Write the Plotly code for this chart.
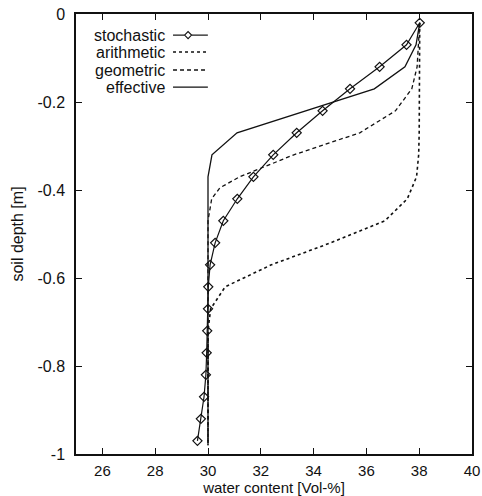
import plotly.graph_objects as go

# ---- data ----
depth_stoch = [-0.02, -0.07, -0.12, -0.17, -0.22, -0.27, -0.32, -0.37, -0.42, -0.47,
               -0.52, -0.57, -0.62, -0.67, -0.72, -0.77, -0.82, -0.87, -0.92, -0.97]
water_stoch = [38.02, 37.52, 36.5, 35.38, 34.34, 33.36, 32.47, 31.72, 31.11, 30.58,
               30.27, 30.08, 30.01, 30.0, 29.97, 29.95, 29.92, 29.85, 29.73, 29.6]

depth_arith = [-0.02, -0.07, -0.12, -0.17, -0.22, -0.27, -0.32, -0.37, -0.42, -0.47,
               -0.52, -0.57, -0.62, -0.67, -0.72, -0.77, -0.82, -0.87, -0.92, -0.98]
water_arith = [38.02, 38.02, 38.02, 38.01, 38.0, 38.0, 37.98, 37.9, 37.55, 36.7,
               34.65, 32.4, 30.65, 30.1, 30.0, 30.0, 30.0, 30.0, 30.0, 30.0]

depth_geom = [-0.02, -0.07, -0.12, -0.17, -0.22, -0.27, -0.32, -0.37, -0.395, -0.42,
              -0.47, -0.52, -0.62, -0.72, -0.82, -0.92, -0.98]
water_geom = [38.02, 37.98, 37.92, 37.72, 37.1, 35.75, 33.25, 31.2, 30.45, 30.14,
              30.0, 30.0, 30.0, 30.0, 30.0, 30.0, 30.0]

depth_eff = [-0.02, -0.07, -0.12, -0.17, -0.27, -0.32, -0.37, -0.47, -0.57, -0.67,
             -0.77, -0.87, -0.98]
water_eff = [38.02, 37.88, 37.46, 36.3, 31.1, 30.15, 30.0, 30.0, 30.0, 30.0,
             30.0, 30.0, 30.0]

x_ticks = [26, 28, 30, 32, 34, 36, 38, 40]
y_ticks = [0, -0.2, -0.4, -0.6, -0.8, -1]
y_tick_labels = ["0", "-0.2", "-0.4", "-0.6", "-0.8", "-1"]
series_names = ["stochastic", "arithmetic", "geometric", "effective"]

FONT = "Liberation Sans, Arial, Helvetica, sans-serif"
BLACK = "#111111"

fig = go.Figure()
fig.add_trace(go.Scatter(x=water_arith, y=depth_arith, mode="lines", name=series_names[1],
                         line=dict(color=BLACK, width=1.6, dash="dot")))
fig.add_trace(go.Scatter(x=water_geom, y=depth_geom, mode="lines", name=series_names[2],
                         line=dict(color=BLACK, width=1.3, dash="4px,3px")))
fig.add_trace(go.Scatter(x=water_eff, y=depth_eff, mode="lines", name=series_names[3],
                         line=dict(color=BLACK, width=1.3)))
fig.add_trace(go.Scatter(x=water_stoch, y=depth_stoch, mode="lines+markers", name=series_names[0],
                         line=dict(color=BLACK, width=1.2),
                         marker=dict(symbol="diamond-open", size=7, color=BLACK,
                                     line=dict(color=BLACK, width=1.2))))

# ---- custom legend (text right-aligned, sample to the right) ----
leg_y = [0.952, 0.9136, 0.8727, 0.834]
leg_dash = ["solid", "dot", "4px,3px", "solid"]
x_text = 0.2298
x0, x1 = 0.245, 0.333
shapes = []
annotations = []
for name, yy, dsh in zip(series_names, leg_y, leg_dash):
    annotations.append(dict(x=x_text, y=yy, xref="paper", yref="paper", text=name,
                            showarrow=False, xanchor="right", yanchor="middle",
                            font=dict(family=FONT, size=16, color=BLACK)))
    if name == "stochastic":
        xm = 0.283
        dx, dy = 3.5 / 396, 3.5 / 440
        shapes.append(dict(type="line", xref="paper", yref="paper", x0=x0, x1=xm - dx,
                           y0=yy, y1=yy, line=dict(color=BLACK, width=1.2)))
        shapes.append(dict(type="line", xref="paper", yref="paper", x0=xm + dx, x1=x1,
                           y0=yy, y1=yy, line=dict(color=BLACK, width=1.2)))
        shapes.append(dict(type="path", xref="paper", yref="paper",
                           path=f"M {xm-dx} {yy} L {xm} {yy+dy} L {xm+dx} {yy} L {xm} {yy-dy} Z",
                           line=dict(color=BLACK, width=1.1), fillcolor="white"))
    else:
        shapes.append(dict(type="line", xref="paper", yref="paper", x0=x0, x1=x1,
                           y0=yy, y1=yy,
                           line=dict(color=BLACK, width=1.6 if dsh == "dot" else 1.3, dash=dsh)))

fig.update_layout(
    width=482, height=496,
    margin=dict(l=76, r=10, t=14, b=42),
    paper_bgcolor="white", plot_bgcolor="white",
    showlegend=False,
    font=dict(family=FONT, size=16, color=BLACK),
    shapes=shapes, annotations=annotations,
)
fig.update_xaxes(range=[25, 40], tickvals=x_ticks, ticks="inside", ticklen=6,
                 tickcolor=BLACK, tickwidth=1.3, showline=True, linecolor=BLACK,
                 linewidth=1.5, mirror="ticks", showgrid=False, zeroline=False,
                 ticklabelstandoff=2, automargin=False,
                 tickfont=dict(family=FONT, size=15, color=BLACK),
                 title=dict(text="water content [Vol-%]", standoff=8,
                            font=dict(family=FONT, size=15, color=BLACK)))
fig.update_yaxes(range=[-1, 0], tickvals=y_ticks, ticktext=y_tick_labels, ticks="inside",
                 ticklen=6, tickcolor=BLACK, tickwidth=1.3, showline=True, linecolor=BLACK,
                 linewidth=1.5, mirror="ticks", showgrid=False, zeroline=False,
                 ticklabelstandoff=6, automargin=False,
                 tickfont=dict(family=FONT, size=16, color=BLACK),
                 title=dict(text="soil depth [m]", standoff=10,
                            font=dict(family=FONT, size=16, color=BLACK)))

fig.write_html("out.html")
